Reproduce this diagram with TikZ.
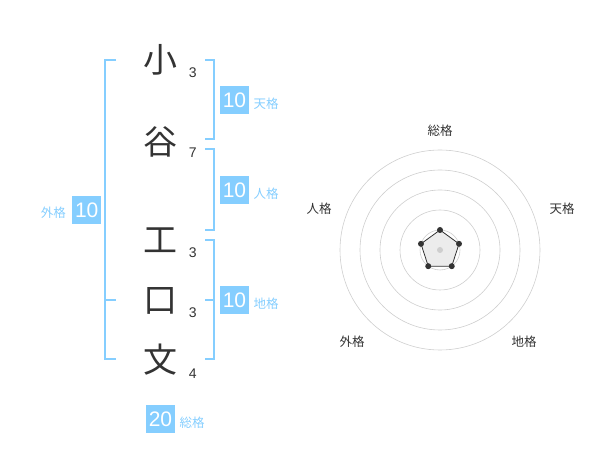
\documentclass[tikz,border=0pt]{standalone}
\usepackage{fontspec}
\usepackage{xcolor}
\usepackage{tikz}
\setmainfont{Liberation Sans}
\newfontfamily\jp{Noto Sans CJK JP}
\definecolor{kakublue}{RGB}{133,206,255}
\definecolor{ink}{RGB}{51,51,51}
\definecolor{ring}{RGB}{206,206,206}
\definecolor{polyfill}{RGB}{236,236,236}

\tikzset{
  kanji/.style={text=ink,font=\jp\fontsize{34}{34}\selectfont,inner sep=0pt},
  strokes/.style={text=ink,font=\fontsize{14}{14}\selectfont,inner sep=0pt},
  score/.style={fill=kakublue,text=white,minimum width=29pt,minimum height=28pt,inner sep=0pt,font=\fontsize{21}{21}\selectfont},
  kaku/.style={text=kakublue,font=\jp\fontsize{12.5}{12.5}\selectfont,inner sep=0pt},
  axis/.style={text=ink,font=\jp\fontsize{12.5}{12.5}\selectfont,inner sep=0pt},
  bracket/.style={draw=kakublue,line width=1.8pt},
  dot/.style={circle,fill=ink,inner sep=0pt,minimum size=6pt},
}

\begin{document}
\begin{tikzpicture}[x=1pt,y=-1pt]
\useasboundingbox (0,0) rectangle (600,470);
% name
\node (k1) at (160,60) [kanji] {小};
\node (k2) at (160,141.5) [kanji] {谷};
\node (k3) at (160,240) [kanji] {工};
\node (k4) at (160,301) [kanji] {口};
\node (k5) at (160,360) [kanji] {文};
\node (s1) at (192.7,72.7) [strokes] {3};
\node (s2) at (192.7,152.7) [strokes] {7};
\node (s3) at (192.7,252.7) [strokes] {3};
\node (s4) at (192.7,312.7) [strokes] {3};
\node (s5) at (192.7,373.3) [strokes] {4};
% brackets
\draw[bracket] (116,60) -- (105,60) -- (105,359) -- (116,359);
\draw[bracket] (105,300) -- (116,300);
\draw[bracket] (205,60) -- (214,60) -- (214,139) -- (205,139);
\draw[bracket] (205,149) -- (214,149) -- (214,230) -- (205,230);
\draw[bracket] (205,240) -- (214,240) -- (214,359) -- (205,359);
\draw[bracket] (205,300) -- (214,300);
% scores
\node (ten) at (234.5,100) [score] {10};
\node (jin) at (234.5,190) [score] {10};
\node (chi) at (234.5,300) [score] {10};
\node (gai) at (86.7,210) [score] {10};
\node (so) at (160.5,419) [score] {20};
\node (tenl) at (266,104) [kaku] {天格};
\node (jinl) at (266,194) [kaku] {人格};
\node (chil) at (266,304) [kaku] {地格};
\node (gail) at (53.3,213) [kaku] {外格};
\node (sol) at (192,422.5) [kaku] {総格};
% radar
\coordinate (c) at (440,250);
\foreach \r in {20,40,...,100}
  \draw[ring,line width=0.6pt] (c) circle [radius=\r pt];
\foreach \a/\n in {-90/so,-18/ten,54/chi,126/gai,198/jin}
  \coordinate (v\n) at ([shift={(\a:20)}]c);
\draw[ink,fill=polyfill,line width=0.8pt] (vso) -- (vten) -- (vchi) -- (vgai) -- (vjin) -- cycle;
\fill[ring] (c) circle [radius=3pt];
\foreach \n in {so,ten,chi,gai,jin}
  \node (d\n) at (v\n) [dot] {};
\node (aso) at (440,131) [axis] {総格};
\node (aten) at (562,208.5) [axis] {天格};
\node (achi) at (524,342) [axis] {地格};
\node (agai) at (352,342) [axis] {外格};
\node (ajin) at (319,208.5) [axis] {人格};
\end{tikzpicture}
\end{document}
